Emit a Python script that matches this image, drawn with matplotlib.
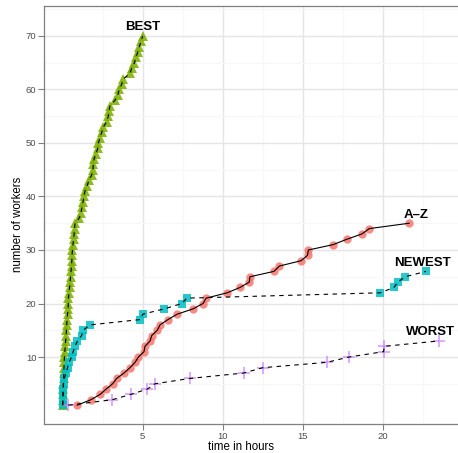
import matplotlib

matplotlib.use("Agg")
import matplotlib.pyplot as plt
import numpy as np

plt.rcParams["font.family"] = ["Liberation Sans", "DejaVu Sans"]

# hours until the n-th worker was done, per ordering strategy
best_hours = [
    0.00, 0.00, 0.01, 0.02, 0.04, 0.05, 0.07, 0.08, 0.09, 0.11,
    0.13, 0.16, 0.18, 0.21, 0.23, 0.25, 0.27, 0.30, 0.33, 0.35,
    0.36, 0.39, 0.43, 0.46, 0.49, 0.52, 0.55, 0.57, 0.58, 0.61,
    0.64, 0.68, 0.71, 0.74, 0.77, 1.04, 1.14, 1.21, 1.27, 1.33,
    1.39, 1.52, 1.64, 1.81, 1.89, 1.91, 1.96, 2.08, 2.19, 2.23,
    2.33, 2.44, 2.54, 2.75, 2.85, 2.89, 2.96, 3.27, 3.44, 3.54,
    3.69, 3.79, 4.21, 4.31, 4.48, 4.58, 4.69, 4.79, 4.89, 5.00,
]
az_hours = [
    0.90, 1.75, 2.33, 2.71, 3.12, 3.37, 3.83, 4.20, 4.52, 4.73,
    5.08, 5.14, 5.46, 5.56, 5.91, 6.08, 6.58, 7.15, 8.15, 8.77,
    8.96, 10.28, 11.08, 11.66, 11.70, 13.20, 13.54, 14.90, 15.30, 15.35,
    16.90, 17.75, 18.70, 19.16, 21.65,
]
newest_hours = [
    0.00, 0.02, 0.03, 0.04, 0.05, 0.10, 0.20, 0.30, 0.40, 0.55,
    0.65, 0.77, 0.92, 1.18, 1.28, 1.70, 4.85, 5.00, 6.35, 7.45,
    7.75, 19.85, 20.70, 20.95, 21.40, 22.70,
]
worst_hours = [
    0.35, 3.07, 4.24, 5.29, 5.77, 7.96, 11.30, 12.50, 16.50, 17.90,
    20.05, 20.10, 23.50,
]

series = [
    ("BEST", best_hours, "#7CAE00", "^", (0, (4, 4))),
    ("A\u2013Z", az_hours, "#F8766D", "o", "-"),
    ("NEWEST", newest_hours, "#00BFC4", "s", (0, (4, 4))),
    ("WORST", worst_hours, "#C77CFF", "+", (0, (4, 4))),
]

fig = plt.figure(figsize=(4.58, 4.53), dpi=100)
W, H = 458, 453
# panel runs past the right edge, like the cropped original
ax = fig.add_axes([44 / W, (H - 424) / H, 416 / W, 418 / H])

for name, hours, color, marker, ls in series:
    workers = np.arange(1, len(hours) + 1)
    if marker == "+":
        ax.plot(hours, workers, linestyle="none", marker=marker, color=color,
                ms=8, mew=1.1, alpha=0.8, zorder=3)
    else:
        size = {"^": 6.5, "o": 6.0, "s": 6.0}[marker]
        ax.plot(hours, workers, linestyle="none", marker=marker, color=color,
                ms=size, mew=0, alpha=0.85, zorder=3)
    ax.plot(hours, workers, color="black", linestyle=ls, lw=0.8, zorder=4)

# labels just above the last point of each curve
label_dx = {"BEST": 0.0, "A\u2013Z": 0.45, "NEWEST": -0.2, "WORST": -0.5}
for name, hours, color, marker, ls in series:
    ax.text(hours[-1] + label_dx[name], len(hours) + 1.6, name, ha="center", va="center",
            fontsize=9.5, fontweight="bold", color="black", zorder=5)

ax.set_xlim(-1.17, 24.83)
ax.set_ylim(-2.52, 75.6)
ax.set_xticks([5, 10, 15, 20])
ax.set_yticks([10, 20, 30, 40, 50, 60, 70])
ax.set_xticks([2.5, 7.5, 12.5, 17.5, 22.5], minor=True)
ax.set_yticks([5, 15, 25, 35, 45, 55, 65, 75], minor=True)

ax.grid(True, which="major", color="#E5E5E5", lw=1.0, zorder=0)
ax.grid(True, which="minor", color="#F7F7F7", lw=0.8, zorder=0)
ax.set_axisbelow(True)

for side, sp in ax.spines.items():
    sp.set_color("#7F7F7F")
    sp.set_linewidth(0.9)

ax.tick_params(which="major", direction="out", length=4, width=0.8,
               color="#7F7F7F", labelcolor="#4D4D4D", labelsize=6.8, pad=1.5)
ax.tick_params(which="minor", length=0)

fig.text(241 / W, (H - 447) / H, "time in hours", ha="center", va="center",
         fontsize=8.3, color="black")
fig.text(18 / W, (H - 224) / H, "number of workers", ha="center", va="center",
         rotation=90, fontsize=8.3, color="black")

fig.savefig("out.png", dpi=100)
